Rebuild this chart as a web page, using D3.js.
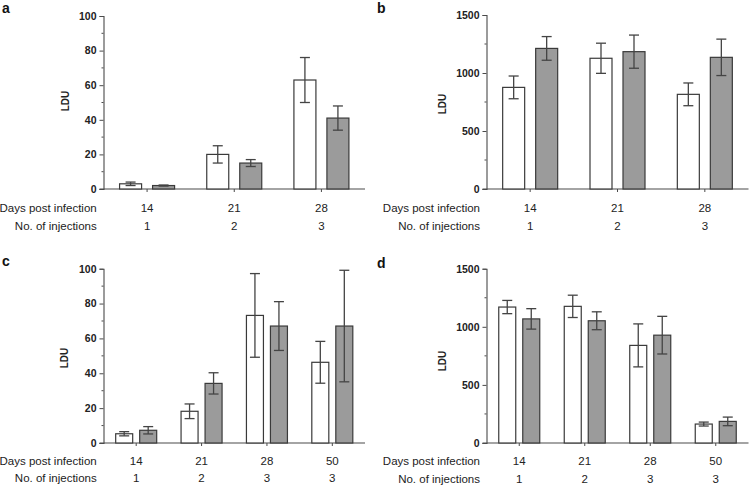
<!DOCTYPE html>
<html><head><meta charset="utf-8">
<script src="https://cdn.jsdelivr.net/npm/d3@7"></script>
<style>
body{margin:0;background:#fff;}
svg{display:block;font-family:Arial,"Liberation Sans",sans-serif;}
</style></head><body>
<svg id="chart" width="749" height="486"></svg>
<script>
// ---- data ----
const daysAB = ["14","21","28"];
const injAB = ["1","2","3"];
const daysCD = ["14","21","28","50"];
const injCD = ["1","2","3","3"];

const aWhite = [3, 20, 63];
const aWhiteErr = [1, 5, 13];
const aGrey = [2, 15, 41];
const aGreyErr = [0.3, 2, 7];

const bWhite = [876, 1127, 816];
const bWhiteErr = [98, 130, 98];
const bGrey = [1212, 1184, 1135];
const bGreyErr = [102, 143, 157];

const cWhite = [5.3, 18.2, 73.2, 46.3];
const cWhiteErr = [1.2, 4.2, 24, 12];
const cGrey = [7.3, 34.2, 67.1, 67.1];
const cGreyErr = [2.1, 6.1, 14, 32];

const dWhite = [1170, 1176, 840, 163];
const dWhiteErr = [57, 96, 185, 17];
const dGrey = [1068, 1052, 928, 186];
const dGreyErr = [88, 77, 162, 37];

const yTicksA = [0, 20, 40, 60, 80, 100];
const yMinorA = d3.range(0, 101, 10);
const yTicksB = [0, 500, 1000, 1500];
const yMinorB = d3.range(0, 1501, 250);

const panels = [
  {label:"a", days:daysAB, inj:injAB, white:aWhite, whiteErr:aWhiteErr, grey:aGrey, greyErr:aGreyErr,
   max:100, ticks:yTicksA, minor:yMinorA, x0:103.5, x1:365, yTop:16, yBot:189, barW:22, gap:11,
   lx:2, ly:13, ldux:65, lduy:101, rowR:96.7, row1:212, row2:230},
  {label:"b", days:daysAB, inj:injAB, white:bWhite, whiteErr:bWhiteErr, grey:bGrey, greyErr:bGreyErr,
   max:1500, ticks:yTicksB, minor:yMinorB, x0:486.5, x1:748.5, yTop:15, yBot:189, barW:22, gap:11,
   lx:377, ly:13, ldux:442, lduy:104, rowR:480, row1:212, row2:230},
  {label:"c", days:daysCD, inj:injCD, white:cWhite, whiteErr:cWhiteErr, grey:cGrey, greyErr:cGreyErr,
   max:100, ticks:yTicksA, minor:yMinorA, x0:103.5, x1:365, yTop:268.7, yBot:443, barW:17, gap:7,
   lx:2, ly:266, ldux:64, lduy:358, rowR:96.7, row1:464.5, row2:482},
  {label:"d", days:daysCD, inj:injCD, white:dWhite, whiteErr:dWhiteErr, grey:dGrey, greyErr:dGreyErr,
   max:1500, ticks:yTicksB, minor:yMinorB, x0:486.5, x1:748.5, yTop:268.7, yBot:443, barW:17, gap:7,
   lx:377, ly:268, ldux:442, lduy:361, rowR:480, row1:465, row2:482.5}
];

const svg = d3.select("#chart");
const axisCol = "#4a4a4a";
const barStroke = "#3a3a3a";
const greyFill = "#9b9b9b";
const errCol = "#444";
const capW = 10;

panels.forEach(p => {
  const g = svg.append("g");
  const x = d3.scaleBand().domain(p.days).range([p.x0, p.x1]);
  const y = d3.scaleLinear().domain([0, p.max]).range([p.yBot, p.yTop]);

  // y axis
  const yAxis = d3.axisLeft(y).tickValues(p.ticks).tickFormat(d3.format("d")).tickSize(4).tickPadding(3);
  const ya = g.append("g").attr("transform", `translate(${p.x0},0)`).call(yAxis);
  ya.select(".domain").attr("stroke", axisCol).attr("stroke-width", 1.1);
  ya.selectAll(".tick line").attr("stroke", axisCol);
  ya.selectAll(".tick text").attr("font-size", 10.5).attr("font-weight", "bold")
    .attr("fill", "#222").attr("font-family", "Arial, 'Liberation Sans', sans-serif");
  // minor ticks
  g.append("g").selectAll("line").data(p.minor.filter(v => !p.ticks.includes(v))).join("line")
    .attr("x1", p.x0 - 2).attr("x2", p.x0).attr("y1", d => y(d)).attr("y2", d => y(d))
    .attr("stroke", axisCol);

  // x axis
  const xAxis = d3.axisBottom(x).tickSize(3).tickFormat("").tickSizeOuter(0);
  const xa = g.append("g").attr("transform", `translate(0,${p.yBot})`).call(xAxis);
  xa.select(".domain").attr("stroke", axisCol).attr("stroke-width", 1.1)
    .attr("d", `M${p.x0 - 4},0H${p.x1}`);
  xa.selectAll(".tick line").attr("stroke", axisCol);

  // bars
  const off = (x.bandwidth() - (2 * p.barW + p.gap)) / 2;
  const series = [
    {vals:p.white, errs:p.whiteErr, fill:"#fff", dx:off},
    {vals:p.grey, errs:p.greyErr, fill:greyFill, dx:off + p.barW + p.gap}
  ];
  series.forEach(s => {
    g.append("g").selectAll("rect").data(p.days).join("rect")
      .attr("x", (d) => x(d) + s.dx)
      .attr("y", (d, i) => y(s.vals[i]))
      .attr("width", p.barW)
      .attr("height", (d, i) => y(0) - y(s.vals[i]))
      .attr("fill", s.fill).attr("stroke", barStroke).attr("stroke-width", 1.2);
    const eg = g.append("g").attr("stroke", errCol).attr("stroke-width", 1.3);
    p.days.forEach((d, i) => {
      const cx = x(d) + s.dx + p.barW / 2;
      const hi = y(s.vals[i] + s.errs[i]), lo = y(s.vals[i] - s.errs[i]);
      eg.append("line").attr("x1", cx).attr("x2", cx).attr("y1", hi).attr("y2", lo);
      eg.append("line").attr("x1", cx - capW/2).attr("x2", cx + capW/2).attr("y1", hi).attr("y2", hi);
      eg.append("line").attr("x1", cx - capW/2).attr("x2", cx + capW/2).attr("y1", lo).attr("y2", lo);
    });
  });

  // row labels
  const txt = (sel) => sel.attr("font-size", 11.5).attr("fill", "#222");
  txt(g.append("text").attr("x", p.rowR).attr("y", p.row1).attr("text-anchor", "end").text("Days post infection"));
  txt(g.append("text").attr("x", p.rowR).attr("y", p.row2).attr("text-anchor", "end").text("No. of injections"));
  p.days.forEach((d, i) => {
    txt(g.append("text").attr("x", x(d) + x.bandwidth()/2).attr("y", p.row1).attr("text-anchor", "middle").text(d));
    txt(g.append("text").attr("x", x(d) + x.bandwidth()/2).attr("y", p.row2).attr("text-anchor", "middle").text(p.inj[i]));
  });

  // LDU label
  g.append("text").attr("transform", `translate(${p.ldux},${p.lduy}) rotate(-90)`)
    .attr("text-anchor", "middle").attr("dy", "0.35em")
    .attr("font-size", 10).attr("font-weight", "bold").attr("fill", "#222").text("LDU");

  // panel label
  g.append("text").attr("x", p.lx).attr("y", p.ly).attr("font-size", 14).attr("font-weight", "bold")
    .attr("fill", "#111").text(p.label);
});
</script>
</body></html>
